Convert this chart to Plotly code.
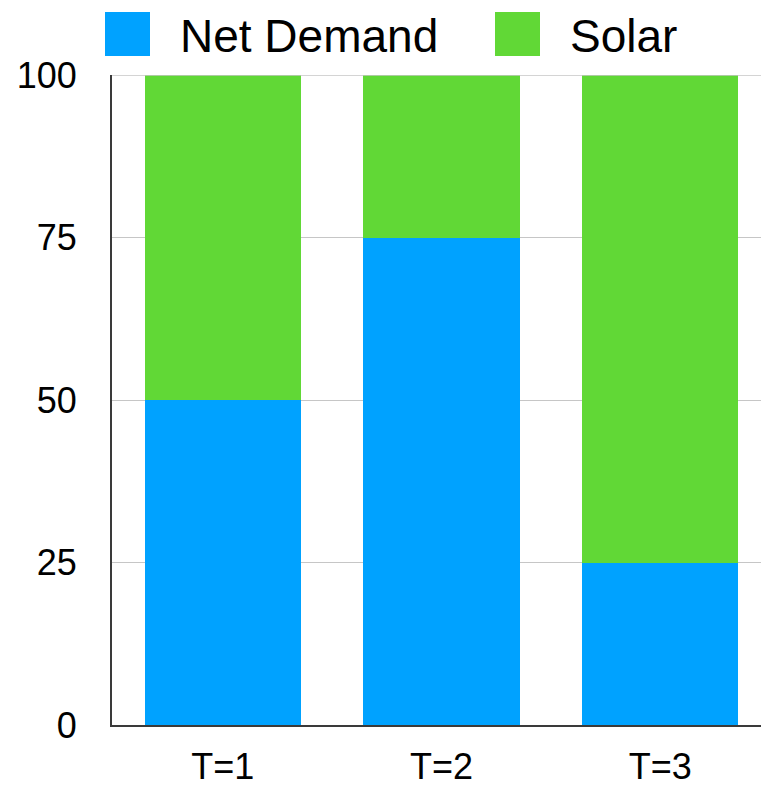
import plotly.graph_objects as go

# Data
categories = ["T=1", "T=2", "T=3"]
net_demand = [50, 75, 25]
solar = [50, 25, 75]
series_names = ["Net Demand", "Solar"]
series_colors = ["#00A2FF", "#61D836"]
y_ticks = [0, 25, 50, 75, 100]

# Canvas and plot-area geometry (pixels)
W, H = 761, 787
M_L, M_R, M_T, M_B = 112, 0, 75, 62
PLOT_W = W - M_L - M_R
PLOT_H = H - M_T - M_B


def px_x(px):
    return (px - M_L) / PLOT_W


def px_y(py):
    return (H - M_B - py) / PLOT_H


FONT = "Liberation Sans, Arial, Helvetica, sans-serif"
GRID = "#c6c6c6"

fig = go.Figure()
for name, vals, color in zip(series_names, [net_demand, solar], series_colors):
    fig.add_bar(
        x=categories,
        y=vals,
        name=name,
        marker=dict(color=color, line=dict(width=0)),
        showlegend=False,
        hoverinfo="skip",
    )

fig.update_layout(
    barmode="stack",
    bargap=0.284,
    width=W,
    height=H,
    margin=dict(l=M_L, r=M_R, t=M_T, b=M_B, pad=0),
    plot_bgcolor="white",
    paper_bgcolor="white",
    font=dict(family=FONT, size=36, color="black"),
)

fig.update_xaxes(
    type="category",
    range=[-0.507, 2.461],
    automargin=False,
    showgrid=False,
    zeroline=False,
    showline=True,
    linecolor="#3a3a3a",
    linewidth=2,
    ticks="",
    ticklabelstandoff=9,
    tickfont=dict(size=36),
)
fig.update_yaxes(
    range=[0, 100],
    tickvals=y_ticks,
    automargin=False,
    showgrid=True,
    gridcolor=GRID,
    gridwidth=1,
    zeroline=False,
    showline=True,
    linecolor="#3a3a3a",
    linewidth=2,
    ticks="",
    ticklabelstandoff=26,
    tickfont=dict(size=36),
)

# Light top border of the plot frame, drawn over the bars
fig.add_shape(
    type="line",
    xref="paper", yref="y",
    x0=0, x1=1, y0=y_ticks[-1], y1=y_ticks[-1],
    line=dict(color=GRID, width=1.5),
    layer="above",
)

# Legend row above the plot: colour swatch followed by series name
legend_items = [
    (series_names[0], series_colors[0], 105, 178),
    (series_names[1], series_colors[1], 495, 568),
]
for name, color, sx, tx in legend_items:
    fig.add_shape(
        type="rect",
        xref="paper", yref="paper",
        x0=px_x(sx), x1=px_x(sx + 45),
        y0=px_y(56), y1=px_y(12),
        fillcolor=color,
        line=dict(width=0),
        layer="above",
    )
    fig.add_annotation(
        xref="paper", yref="paper",
        x=px_x(tx), y=px_y(36),
        xanchor="left", yanchor="middle",
        text=name,
        showarrow=False,
        font=dict(family=FONT, size=46, color="black"),
    )

fig.write_html("out.html")
